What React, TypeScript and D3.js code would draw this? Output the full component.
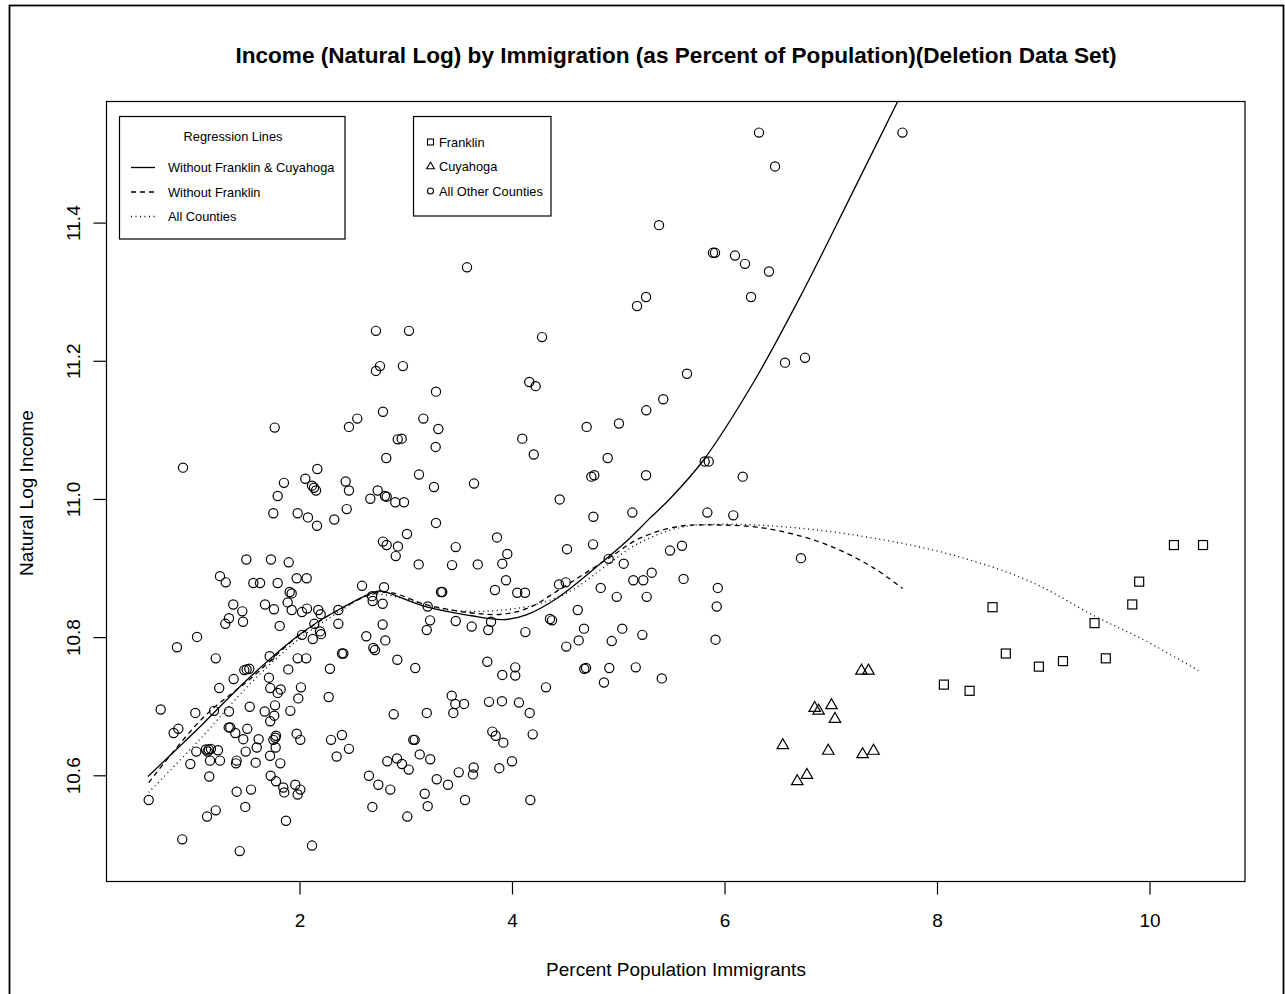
import React from 'react';
import * as d3 from 'd3';

// Franklin county (squares)
const franklin: [number, number][] = [
  [10.225, 10.934], [10.499, 10.934], [9.898, 10.881], [9.833, 10.848], [9.478, 10.821], [8.518, 10.844],
  [8.643, 10.777], [8.954, 10.758], [9.181, 10.766], [9.584, 10.770], [8.060, 10.732], [8.302, 10.723],
];

// Cuyahoga county (triangles)
const cuyahoga: [number, number][] = [
  [7.284, 10.752], [7.350, 10.752], [6.844, 10.698], [6.881, 10.694], [7.002, 10.702], [7.035, 10.682],
  [6.544, 10.644], [6.972, 10.636], [7.295, 10.631], [7.398, 10.636], [6.771, 10.601], [6.680, 10.592],
];

// all other counties (circles)
const otherCounties: [number, number][] = [
  [1.495, 10.913], [1.727, 10.913], [1.894, 10.909], [1.247, 10.889], [1.301, 10.880], [1.561, 10.879], [1.624, 10.879], [1.790, 10.879], [1.969, 10.886], [2.063, 10.886],
  [1.903, 10.866], [1.922, 10.864], [2.584, 10.875], [2.678, 10.860], [2.684, 10.853], [1.372, 10.848], [1.457, 10.838], [1.332, 10.828], [1.297, 10.820], [1.464, 10.823],
  [1.671, 10.848], [1.755, 10.841], [1.884, 10.851], [1.922, 10.840], [2.019, 10.837], [2.066, 10.842], [2.172, 10.840], [2.195, 10.834], [2.361, 10.840], [2.361, 10.820],
  [2.135, 10.820], [1.809, 10.817], [2.019, 10.804], [2.120, 10.798], [2.188, 10.809], [2.198, 10.805], [2.624, 10.802], [2.690, 10.785], [2.706, 10.782], [2.395, 10.777],
  [2.408, 10.777], [1.031, 10.801], [0.842, 10.786], [1.207, 10.770], [1.715, 10.773], [1.978, 10.770], [2.059, 10.770], [1.476, 10.753], [1.498, 10.754], [1.523, 10.755],
  [1.890, 10.754], [2.282, 10.755], [1.376, 10.740], [1.708, 10.742], [1.240, 10.727], [1.720, 10.727], [1.818, 10.725], [1.790, 10.720], [2.009, 10.728], [1.984, 10.712],
  [2.270, 10.714], [0.689, 10.696], [1.015, 10.691], [1.191, 10.694], [1.332, 10.693], [1.527, 10.700], [1.765, 10.702], [1.668, 10.693], [1.758, 10.687], [1.909, 10.694],
  [1.720, 10.679], [0.855, 10.668], [0.811, 10.662], [1.329, 10.670], [1.344, 10.670], [1.391, 10.662], [1.504, 10.668], [1.466, 10.653], [1.611, 10.653], [1.774, 10.658],
  [1.768, 10.655], [1.749, 10.652], [1.969, 10.661], [2.003, 10.652], [2.292, 10.652], [2.395, 10.659], [2.461, 10.639], [2.345, 10.628], [2.649, 10.600], [2.737, 10.587],
  [2.681, 10.555], [1.115, 10.638], [1.141, 10.638], [1.162, 10.639], [1.131, 10.635], [1.228, 10.637], [1.024, 10.635], [0.968, 10.617], [1.153, 10.622], [1.247, 10.622],
  [1.146, 10.599], [1.489, 10.635], [1.593, 10.641], [1.404, 10.622], [1.398, 10.618], [1.583, 10.619], [1.718, 10.629], [1.771, 10.641], [1.815, 10.618], [1.724, 10.600],
  [1.774, 10.592], [1.843, 10.583], [1.852, 10.576], [1.956, 10.587], [2.003, 10.580], [1.978, 10.573], [1.404, 10.577], [1.539, 10.580], [1.485, 10.555], [0.576, 10.565],
  [1.207, 10.550], [1.125, 10.541], [1.868, 10.535], [0.892, 10.508], [1.433, 10.491], [2.113, 10.499],
  [1.762, 11.104], [2.461, 11.105], [2.539, 11.117], [2.781, 11.127], [3.161, 11.117], [3.302, 11.102], [2.920, 11.087], [2.957, 11.088], [3.277, 11.076], [2.812, 11.060],
  [2.163, 11.044], [2.050, 11.030], [2.113, 11.020], [2.132, 11.017], [2.151, 11.013], [1.849, 11.024], [1.790, 11.005], [1.749, 10.980], [1.978, 10.980], [2.075, 10.974],
  [2.160, 10.962], [2.323, 10.971], [2.440, 10.986], [2.430, 11.026], [2.461, 11.013], [2.662, 11.001], [2.731, 11.013], [2.800, 11.005], [2.816, 11.004], [2.897, 10.996],
  [2.979, 10.996], [3.120, 11.036], [3.261, 11.018], [3.638, 11.023], [3.280, 10.966], [3.007, 10.950], [2.781, 10.939], [2.816, 10.934], [2.922, 10.932], [2.901, 10.918],
  [3.466, 10.931],
  [3.117, 10.906], [3.431, 10.905], [3.673, 10.906], [3.951, 10.921], [3.904, 10.907], [3.939, 10.883], [3.835, 10.869], [4.045, 10.865], [4.118, 10.865], [4.513, 10.928],
  [4.758, 10.935], [4.438, 10.877], [4.501, 10.880], [4.905, 10.914], [5.047, 10.907], [4.830, 10.872], [4.981, 10.859], [5.137, 10.883], [5.231, 10.883], [5.263, 10.859],
  [5.310, 10.894], [2.791, 10.873], [2.778, 10.849], [3.327, 10.866], [3.339, 10.866], [3.202, 10.845], [3.224, 10.825], [3.193, 10.811], [3.466, 10.824], [3.616, 10.816],
  [3.798, 10.823], [3.772, 10.811], [4.121, 10.808], [4.353, 10.827], [4.372, 10.825], [4.614, 10.840], [4.673, 10.813], [4.623, 10.796], [4.506, 10.787], [4.934, 10.795],
  [5.033, 10.813], [5.222, 10.804], [2.778, 10.819], [2.803, 10.796], [2.916, 10.768], [3.085, 10.756], [3.763, 10.765], [4.026, 10.757], [4.026, 10.745], [3.904, 10.746],
  [4.315, 10.728], [4.676, 10.755], [4.692, 10.756], [4.911, 10.756], [5.160, 10.757], [4.861, 10.735], [3.428, 10.716], [3.462, 10.704], [3.544, 10.704], [3.779, 10.707],
  [3.901, 10.708], [4.061, 10.706], [2.882, 10.689], [3.193, 10.691], [3.443, 10.691], [4.162, 10.691],
  [4.190, 10.660], [3.066, 10.652], [3.080, 10.652], [3.810, 10.664], [3.842, 10.658], [3.914, 10.648], [3.127, 10.631], [3.226, 10.624], [2.913, 10.625], [2.822, 10.621],
  [2.960, 10.617], [3.023, 10.609], [2.850, 10.580], [3.287, 10.595], [3.393, 10.587], [3.494, 10.605], [3.635, 10.612], [3.628, 10.602], [3.876, 10.611], [3.995, 10.621],
  [3.174, 10.574], [3.202, 10.556], [3.553, 10.565], [3.010, 10.541], [4.168, 10.565],
  [4.158, 11.170], [4.218, 11.164], [5.419, 11.145], [5.259, 11.129], [5.002, 11.110], [4.698, 11.105], [4.092, 11.088], [4.200, 11.065], [4.896, 11.060], [4.742, 11.033],
  [4.770, 11.035], [5.257, 11.035], [5.809, 11.055], [5.847, 11.055], [6.167, 11.033], [4.444, 11.000], [4.761, 10.975], [5.128, 10.981], [5.834, 10.981], [6.078, 10.977],
  [3.854, 10.945], [5.482, 10.926], [5.595, 10.933], [6.715, 10.915],
  [5.610, 10.885], [5.932, 10.872], [5.922, 10.845], [5.911, 10.797], [5.405, 10.741],
  [6.320, 11.531], [7.670, 11.531], [6.471, 11.482], [5.379, 11.397], [5.887, 11.357], [5.906, 11.357], [6.094, 11.353], [6.188, 11.341], [6.414, 11.330], [5.257, 11.293],
  [5.172, 11.280], [6.245, 11.293], [3.572, 11.336], [4.278, 11.235], [2.715, 11.244], [3.026, 11.244], [2.715, 11.186], [2.753, 11.193], [2.969, 11.193], [3.280, 11.156],
  [6.565, 11.198], [6.753, 11.205], [5.642, 11.182], [0.899, 11.046],
];

// regression (smoother) lines
const fitNoFranklinCuyahoga: [number, number][] = [
  [0.569, 10.599], [1.059, 10.671], [1.53, 10.743], [2.0, 10.805], [2.358, 10.840], [2.72, 10.867], [2.78, 10.867],
  [3.20, 10.844], [3.60, 10.832], [3.91, 10.826], [4.13, 10.833], [4.42, 10.857], [4.85, 10.910], [5.07, 10.939],
  [5.294, 10.973], [5.482, 11.001], [5.793, 11.056], [6.27, 11.170], [6.73, 11.300], [7.18, 11.438], [7.67, 11.590],
];
const fitNoFranklin: [number, number][] = [
  [0.576, 10.590], [1.087, 10.684], [1.53, 10.740], [2.0, 10.804], [2.376, 10.841], [2.781, 10.866], [3.205, 10.847],
  [3.60, 10.836], [3.91, 10.834], [4.165, 10.844], [4.416, 10.867], [4.905, 10.915], [5.2, 10.944], [5.567, 10.961],
  [5.932, 10.963], [6.298, 10.960], [6.664, 10.949], [7.031, 10.930], [7.398, 10.901], [7.672, 10.871],
];
const fitAllCounties: [number, number][] = [
  [0.576, 10.576], [1.059, 10.653], [1.53, 10.733], [2.0, 10.799], [2.376, 10.838], [2.659, 10.862], [2.969, 10.857],
  [3.287, 10.843], [3.60, 10.838], [3.913, 10.840], [4.228, 10.848], [4.541, 10.867], [4.855, 10.901], [5.169, 10.935],
  [5.567, 10.959], [5.932, 10.964], [6.664, 10.959], [7.398, 10.944], [8.130, 10.920], [8.861, 10.882], [9.482, 10.831],
  [9.962, 10.795], [10.47, 10.751],
];

const xTicks = [2, 4, 6, 8, 10];
const yTicks = [10.6, 10.8, 11.0, 11.2, 11.4];

const lineLegend = ['Without Franklin & Cuyahoga', 'Without Franklin', 'All Counties'];
const pointLegend = ['Franklin', 'Cuyahoga', 'All Other Counties'];

const font = "'Liberation Sans', Arial, Helvetica, sans-serif";

export default function App() {
  const width = 1285;
  const height = 994;
  const left = 106.5, right = 1245, top = 101.5, bottom = 881.5;

  const x = d3.scaleLinear().domain([0.179, 10.894]).range([left, right]);
  const y = d3.scaleLinear().domain([10.447, 11.576]).range([bottom, top]);

  const line = d3.line<[number, number]>()
    .x(d => x(d[0]))
    .y(d => y(d[1]))
    .curve(d3.curveCatmullRom.alpha(0.5));

  const tri = d3.symbol().type(d3.symbolTriangle).size(57)();
  const triSmall = d3.symbol().type(d3.symbolTriangle).size(26)();

  const dashes = ['none', '5,4', '1,3.5'];

  return (
    <svg width={width} height={height} style={{ position: 'absolute', left: 0, top: 0, background: '#fff' }}
      fontFamily={font}>
      <rect x={0} y={0} width={width} height={height} fill="#fff" />
      <rect x={9.5} y={5.5} width={1274} height={1000} fill="none" stroke="#000" strokeWidth={1.8} />

      <text x={676} y={63} textAnchor="middle" fontWeight="bold" fontSize={22.6}>
        Income (Natural Log) by Immigration (as Percent of Population)(Deletion Data Set)
      </text>

      <defs>
        <clipPath id="plotClip">
          <rect x={left} y={top} width={right - left} height={bottom - top} />
        </clipPath>
      </defs>

      {/* points */}
      <g fill="none" stroke="#000" strokeWidth={1.2}>
        {otherCounties.map((d, i) => (
          <circle key={'o' + i} cx={x(d[0])} cy={y(d[1])} r={4.6} />
        ))}
        {franklin.map((d, i) => (
          <rect key={'f' + i} x={x(d[0]) - 4.5} y={y(d[1]) - 4.5} width={9} height={9} />
        ))}
        {cuyahoga.map((d, i) => (
          <path key={'c' + i} d={tri || ''} transform={`translate(${x(d[0])},${y(d[1])})`} />
        ))}
      </g>

      {/* regression lines */}
      <g clipPath="url(#plotClip)" fill="none" stroke="#000" strokeWidth={1.3}>
        <path d={line(fitNoFranklinCuyahoga) || ''} />
        <path d={line(fitNoFranklin) || ''} strokeDasharray={dashes[1]} />
        <path d={line(fitAllCounties) || ''} strokeDasharray={dashes[2]} />
      </g>

      {/* plot box */}
      <rect x={left} y={top} width={right - left} height={bottom - top} fill="none" stroke="#000" strokeWidth={1.2} />

      {/* x axis */}
      <g>
        {xTicks.map(t => (
          <g key={t}>
            <line x1={x(t)} x2={x(t)} y1={bottom} y2={bottom + 13} stroke="#000" strokeWidth={1.2} />
            <text x={x(t)} y={927} textAnchor="middle" fontSize={19}>{t}</text>
          </g>
        ))}
      </g>
      <text x={676} y={976} textAnchor="middle" fontSize={19}>Percent Population Immigrants</text>

      {/* y axis */}
      <g>
        {yTicks.map(t => (
          <g key={t}>
            <line x1={left - 13} x2={left} y1={y(t)} y2={y(t)} stroke="#000" strokeWidth={1.2} />
            <text transform={`translate(80,${y(t)}) rotate(-90)`} textAnchor="middle" fontSize={19}>
              {t.toFixed(1)}
            </text>
          </g>
        ))}
      </g>
      <text transform="translate(33,493) rotate(-90)" textAnchor="middle" fontSize={19}>Natural Log Income</text>

      {/* legend: regression lines */}
      <g>
        <rect x={119.5} y={116.5} width={225.5} height={122.5} fill="#fff" stroke="#000" strokeWidth={1.2} />
        <text x={233} y={141} textAnchor="middle" fontSize={12.8}>Regression Lines</text>
        {lineLegend.map((label, i) => {
          const ly = 167.5 + i * 24.5;
          return (
            <g key={label}>
              <line x1={131} x2={155} y1={ly} y2={ly} stroke="#000" strokeWidth={1.3} strokeDasharray={dashes[i]} />
              <text x={168} y={ly + 4.5} fontSize={12.8}>{label}</text>
            </g>
          );
        })}
      </g>

      {/* legend: counties */}
      <g>
        <rect x={413.5} y={116.5} width={137.5} height={99.5} fill="#fff" stroke="#000" strokeWidth={1.2} />
        {pointLegend.map((label, i) => {
          const ly = 142 + i * 24.5;
          return (
            <g key={label} fill="none" stroke="#000" strokeWidth={1.1}>
              {i === 0 && <rect x={427.5} y={ly - 3} width={6} height={6} />}
              {i === 1 && <path d={triSmall || ''} transform={`translate(430.5,${ly})`} />}
              {i === 2 && <circle cx={430.5} cy={ly} r={3} />}
              <text x={439} y={ly + 4.5} fontSize={12.8} fill="#000" stroke="none">{label}</text>
            </g>
          );
        })}
      </g>
    </svg>
  );
}
